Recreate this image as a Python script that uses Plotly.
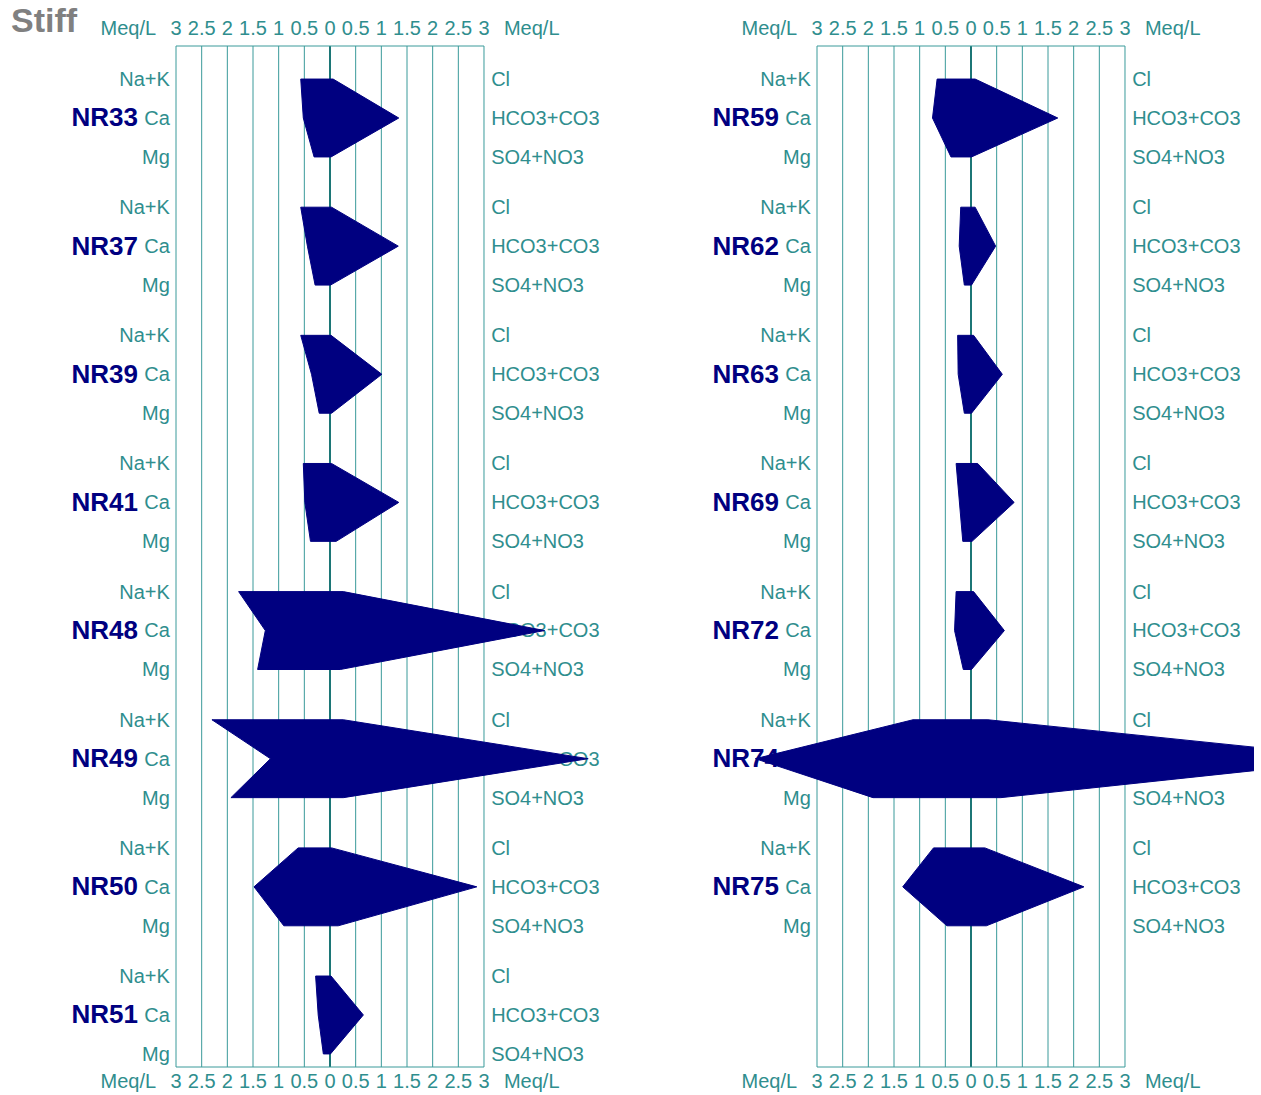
import plotly.graph_objects as go

# ---- Stiff diagram data (meq/L) ----
left_samples = ["NR33", "NR37", "NR39", "NR41", "NR48", "NR49", "NR50", "NR51"]
left_na_k = [0.57, 0.57, 0.57, 0.52, 1.78, 2.30, 0.62, 0.28]
left_ca = [0.52, 0.44, 0.36, 0.49, 1.26, 1.16, 1.48, 0.23]
left_mg = [0.31, 0.29, 0.21, 0.38, 1.41, 1.93, 0.90, 0.13]
left_cl = [0.06, 0.03, 0.02, 0.03, 0.26, 0.26, 0.03, 0.02]
left_hco3_co3 = [1.34, 1.33, 1.01, 1.34, 4.18, 5.03, 2.86, 0.65]
left_so4_no3 = [0.02, 0.01, 0.03, 0.12, 0.20, 0.26, 0.16, 0.01]

right_samples = ["NR59", "NR62", "NR63", "NR69", "NR72", "NR74", "NR75"]
right_na_k = [0.66, 0.20, 0.26, 0.29, 0.29, 1.13, 0.73]
right_ca = [0.75, 0.23, 0.25, 0.23, 0.32, 4.20, 1.33]
right_mg = [0.39, 0.13, 0.13, 0.16, 0.15, 1.91, 0.47]
right_cl = [0.08, 0.08, 0.05, 0.13, 0.05, 0.33, 0.27]
right_hco3_co3 = [1.69, 0.48, 0.61, 0.84, 0.65, 7.70, 2.20]
right_so4_no3 = [0.01, 0.01, 0.01, 0.02, 0.01, 0.58, 0.30]

cation_labels = ["Na+K", "Ca", "Mg"]
anion_labels = ["Cl", "HCO3+CO3", "SO4+NO3"]
tick_values = [-3, -2.5, -2, -1.5, -1, -0.5, 0, 0.5, 1, 1.5, 2, 2.5, 3]
tick_labels = ["3", "2.5", "2", "1.5", "1", "0.5", "0", "0.5", "1", "1.5", "2", "2.5", "3"]
unit_label = "Meq/L"

# ---- styling ----
W, H = 1261, 1095
FONT = "Arial, Liberation Sans, sans-serif"
TEAL = "#2f8e8e"
GRID = "#3a9a9a"
CENTER = "#1c7676"
NAVY = "#000080"
PX_PER_MEQ = 51.33
ROW_GAP = 0.304          # offset of the Na+K / Mg rows from the Ca row (slot units)
SLOT_PX = 128.14
FRAME_TOP, FRAME_BOT = 46, 1067
FIRST_ROW = 118
TEXT_DY = 0.015          # small downward nudge for the row labels

panels = [
    dict(samples=left_samples, na=left_na_k, ca=left_ca, mg=left_mg,
         cl=left_cl, hco3=left_hco3_co3, so4=left_so4_no3,
         center=330, px0=0, px1=630),
    dict(samples=right_samples, na=right_na_k, ca=right_ca, mg=right_mg,
         cl=right_cl, hco3=right_hco3_co3, so4=right_so4_no3,
         center=971, px0=630, px1=1254),
]

fig = go.Figure()
shapes = []
y_top = (FRAME_TOP - FIRST_ROW) / SLOT_PX
y_bot = (FRAME_BOT - FIRST_ROW) / SLOT_PX

for p_idx, p in enumerate(panels):
    n = p_idx + 1
    xa = "x" if n == 1 else f"x{n}"
    ya = "y" if n == 1 else f"y{n}"
    xa_top = f"x{n + 2}"
    rows = list(range(len(p["samples"])))

    # labels go first so the polygons sit on top of them
    lx, ly, lt = [], [], []
    rx, ry, rt = [], [], []
    for r in rows:
        for k, dy in enumerate((-ROW_GAP, 0, ROW_GAP)):
            lx.append(-3.12); ly.append(r + dy + TEXT_DY); lt.append(cation_labels[k])
            rx.append(3.14); ry.append(r + dy + TEXT_DY); rt.append(anion_labels[k])
    fig.add_trace(go.Scatter(x=lx, y=ly, text=lt, mode="text", textposition="middle left",
                             textfont=dict(family=FONT, size=20, color=TEAL),
                             xaxis=xa, yaxis=ya, hoverinfo="skip", showlegend=False,
                             cliponaxis=False))
    fig.add_trace(go.Scatter(x=rx, y=ry, text=rt, mode="text", textposition="middle right",
                             textfont=dict(family=FONT, size=20, color=TEAL),
                             xaxis=xa, yaxis=ya, hoverinfo="skip", showlegend=False,
                             cliponaxis=False))
    fig.add_trace(go.Scatter(x=[-3.74] * len(rows), y=[r + TEXT_DY for r in rows],
                             text=[f"<b>{s}</b>" for s in p["samples"]],
                             mode="text", textposition="middle left",
                             textfont=dict(family=FONT, size=26, color=NAVY),
                             xaxis=xa, yaxis=ya, hoverinfo="skip", showlegend=False,
                             cliponaxis=False))

    # Stiff polygons: cations to the left, anions to the right
    for r in rows:
        xs = [-p["na"][r], p["cl"][r], p["hco3"][r], p["so4"][r], -p["mg"][r], -p["ca"][r], -p["na"][r]]
        ys = [r - ROW_GAP, r - ROW_GAP, r, r + ROW_GAP, r + ROW_GAP, r, r - ROW_GAP]
        fig.add_trace(go.Scatter(x=xs, y=ys, mode="lines", fill="toself",
                                 fillcolor=NAVY, line=dict(color=NAVY, width=1),
                                 xaxis=xa, yaxis=ya, hoverinfo="skip", showlegend=False,
                                 name=p["samples"][r]))

    # invisible anchor so the top scale axis gets drawn
    fig.add_trace(go.Scatter(x=[0], y=[0], mode="markers", marker=dict(opacity=0, size=1),
                             xaxis=xa_top, yaxis=ya, hoverinfo="skip", showlegend=False))

    # axis geometry
    x_lo = (p["px0"] - p["center"]) / PX_PER_MEQ
    x_hi = (p["px1"] - p["center"]) / PX_PER_MEQ
    tv = [-3.93] + tick_values + [3.93]
    tt = [unit_label] + tick_labels + [unit_label]
    axis_common = dict(range=[x_lo, x_hi], tickvals=tv, ticktext=tt,
                       showgrid=False, zeroline=False, showline=False, ticks="",
                       tickfont=dict(family=FONT, size=20, color=TEAL), fixedrange=True)
    fig.update_layout(**{
        ("xaxis" if n == 1 else f"xaxis{n}"): dict(domain=[p["px0"] / W, p["px1"] / W],
                                                  anchor=ya, side="bottom",
                                                  ticklabelstandoff=0, **axis_common),
        f"xaxis{n + 2}": dict(overlaying=xa, anchor=ya, side="top",
                              ticklabelstandoff=6, **axis_common),
        ("yaxis" if n == 1 else f"yaxis{n}"): dict(domain=[1 - FRAME_BOT / H, 1 - FRAME_TOP / H],
                                                  range=[y_bot, y_top], anchor=xa,
                                                  visible=False, fixedrange=True),
    })

    # frame and vertical grid
    for v in tick_values:
        shapes.append(dict(type="line", xref=xa, yref=f"{ya} domain", x0=v, x1=v, y0=0, y1=1,
                           line=dict(color=CENTER if v == 0 else GRID, width=2 if v == 0 else 1),
                           layer="below"))
    for yy in (0, 1):
        shapes.append(dict(type="line", xref=xa, yref=f"{ya} domain", x0=-3, x1=3, y0=yy, y1=yy,
                           line=dict(color=GRID, width=1), layer="below"))

fig.update_layout(
    width=W, height=H,
    margin=dict(l=0, r=0, t=0, b=0),
    paper_bgcolor="white", plot_bgcolor="white",
    shapes=shapes,
    annotations=[dict(text="<b>Stiff</b>", x=9 / W, y=1 - 20 / H, xref="paper", yref="paper",
                      xanchor="left", yanchor="middle", showarrow=False,
                      font=dict(family=FONT, size=34, color="#808080"))],
)

fig.write_html("out.html")
